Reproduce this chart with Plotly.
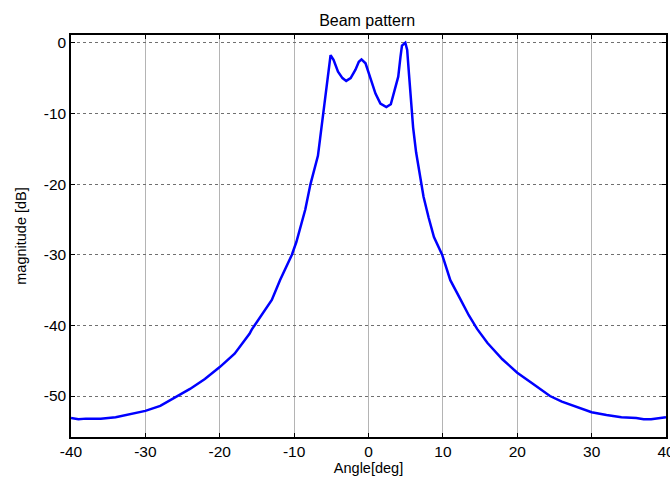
import plotly.graph_objects as go

angle_deg = [-40, -39, -38, -36, -34, -32, -30, -28, -26, -24, -22, -20, -18, -16, -15.7,
             -14.5, -13, -11.9, -11, -10.3, -9.7, -9.1, -8.5, -7.8, -7.3, -6.8, -6.5, -6.2,
             -5.85, -5.55, -5.3, -5.1, -4.7, -4.1, -3.5, -3.0, -2.4, -1.75, -1.3, -0.94, -0.4,
             0.0, 0.5, 0.94, 1.6, 2.4, 3.0, 3.4, 4.0, 4.3, 4.5, 4.95, 5.2, 5.45, 5.65, 6.0,
             6.4, 7.0, 7.4, 8.1, 8.8, 9.9, 11.0, 12.4, 13.5, 14.6, 16, 18, 20, 22, 24.4, 26,
             28, 30, 32, 34, 36, 37, 38, 39, 40]
magnitude_db = [-53.1, -53.3, -53.2, -53.2, -53.0, -52.6, -52.1, -51.4, -50.2, -49.0, -47.6,
                -45.9, -44.0, -41.2, -40.6, -38.8, -36.4, -33.6, -31.6, -30.0, -28.2, -26.0,
                -23.6, -20.0, -18.0, -16.0, -13.5, -11.0, -8.0, -5.2, -3.2, -1.74, -2.4, -4.1,
                -5.0, -5.4, -5.0, -3.8, -2.7, -2.35, -2.9, -4.1, -5.7, -7.2, -8.6, -9.1, -8.7,
                -7.2, -4.8, -2.0, -0.4, 0.0, -1.0, -4.5, -7.6, -12.0, -15.5, -19.4, -21.8,
                -24.8, -27.5, -30.0, -33.6, -36.4, -38.6, -40.5, -42.5, -44.8, -46.7, -48.2,
                -50.0, -50.8, -51.6, -52.3, -52.7, -53.0, -53.1, -53.3, -53.3, -53.2, -53.0]

x_ticks = [-40, -30, -20, -10, 0, 10, 20, 30, 40]
y_ticks = [0, -10, -20, -30, -40, -50]

font_family = "Liberation Sans, Arial, sans-serif"

fig = go.Figure()
fig.add_trace(go.Scatter(x=angle_deg, y=magnitude_db, mode="lines",
                         line=dict(color="#0000ff", width=2.5), showlegend=False))

fig.update_layout(
    width=670, height=482,
    margin=dict(l=71, r=4, t=35, b=45, autoexpand=False),
    paper_bgcolor="white", plot_bgcolor="white",
    font=dict(family=font_family, size=15, color="black"),
    title=dict(text="Beam pattern", x=0.548, xanchor="center", y=0.958, yanchor="middle",
               font=dict(size=16, color="black"), automargin=False),
)
fig.update_xaxes(
    range=[-40, 40], tickvals=x_ticks, ticktext=[str(v) for v in x_ticks],
    showgrid=True, gridcolor="#b4b4b4", gridwidth=1, griddash="solid",
    showline=True, linecolor="black", linewidth=1.5, mirror="ticks",
    ticks="inside", ticklen=4, tickcolor="black", zeroline=False,
    automargin=False, ticklabeloverflow="allow",
    title=dict(text="Angle[deg]", font=dict(size=14.5), standoff=4),
    tickfont=dict(size=15.5),
)
fig.update_yaxes(
    range=[-55.8, 1.1], tickvals=y_ticks, ticktext=[str(v) for v in y_ticks],
    showgrid=True, gridcolor="#707070", gridwidth=1, griddash="dot",
    showline=True, linecolor="black", linewidth=1.5, mirror="ticks",
    ticks="inside", ticklen=4, tickcolor="black", zeroline=False,
    automargin=False, ticklabeloverflow="allow",
    title=dict(text="magnitude [dB]", font=dict(size=14.5), standoff=14),
    tickfont=dict(size=15.5),
)

fig.write_html(
    "out.html",
    config={"displayModeBar": False},
    post_script="document.body.style.margin='0';document.body.style.overflow='hidden';",
)
